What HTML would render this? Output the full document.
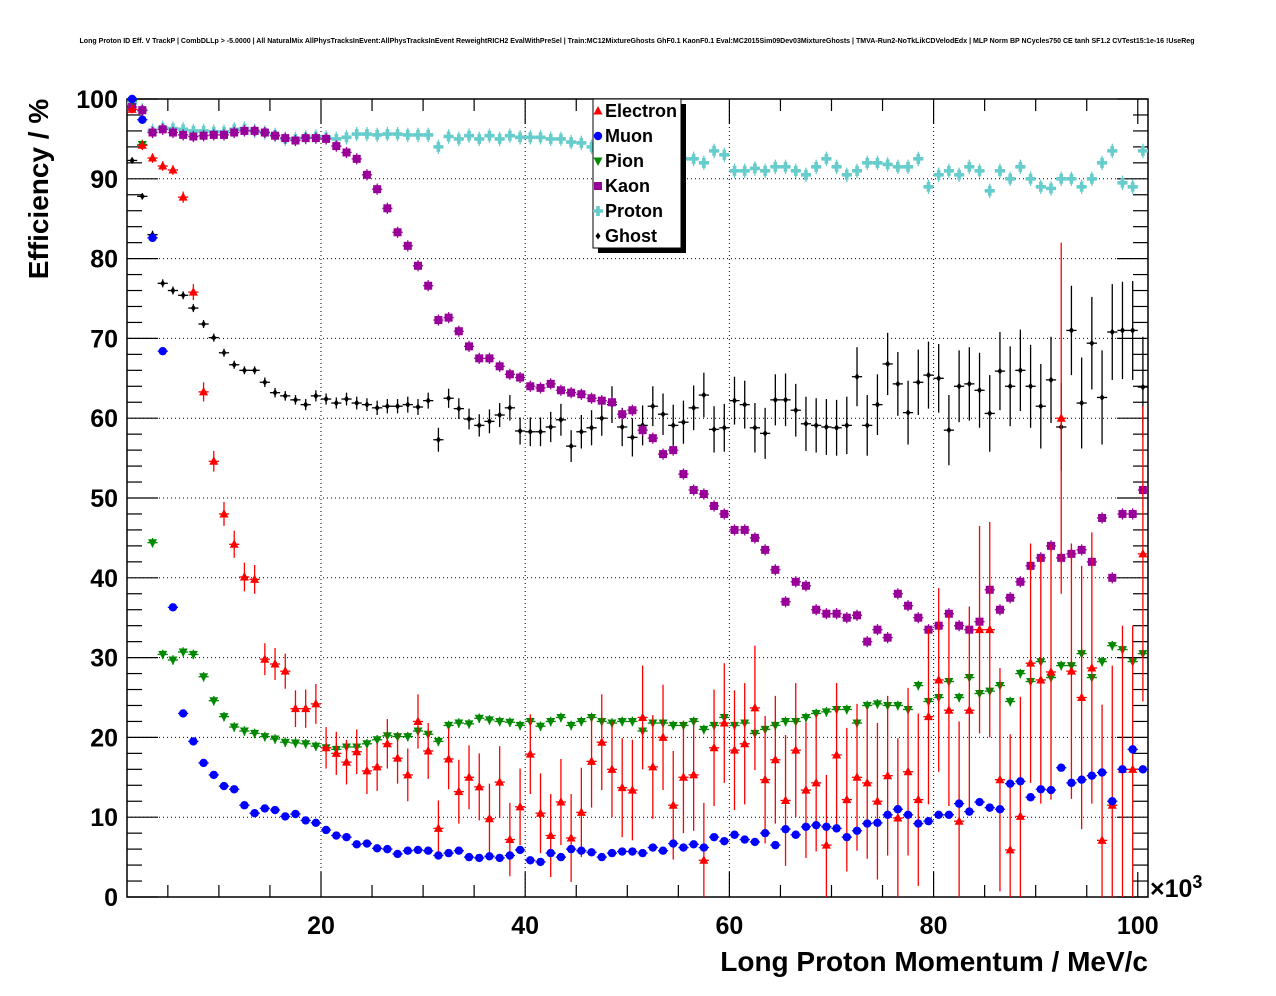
<!DOCTYPE html>
<html><head><meta charset="utf-8"><style>
html,body{margin:0;padding:0;background:#fff;}
svg{display:block;font-family:"Liberation Sans",Arial,sans-serif;}
</style></head><body>
<svg id="chart" width="1276" height="996" viewBox="0 0 1276 996">
<rect width="1276" height="996" fill="#fff"/>
<text x="637" y="43" font-size="7" font-weight="bold" text-anchor="middle" textLength="1115" lengthAdjust="spacingAndGlyphs">Long Proton ID Eff. V TrackP | CombDLLp &gt; -5.0000 | All NaturalMix AllPhysTracksInEvent:AllPhysTracksInEvent ReweightRICH2 EvalWithPreSel | Train:MC12MixtureGhosts GhF0.1 KaonF0.1 Eval:MC2015Sim09Dev03MixtureGhosts | TMVA-Run2-NoTkLikCDVelodEdx | MLP Norm BP NCycles750 CE tanh SF1.2 CVTest15:1e-16 !UseReg</text>
<g id="grid"></g>
<g id="axes"></g>
<g id="series"></g>
<text transform="translate(48,189) rotate(-90)" font-size="28" font-weight="bold" text-anchor="middle">Efficiency / %</text>
<text x="1148" y="971" font-size="28" font-weight="bold" text-anchor="end">Long Proton Momentum / MeV/c</text>
<text x="1150" y="897" font-size="25" font-weight="bold">×10<tspan font-size="18" dy="-9">3</tspan></text>
<g>
<rect x="598" y="104" width="88" height="149" fill="#000"/>
<rect x="593" y="99" width="88" height="149" fill="#fff" stroke="#000" stroke-width="1"/>
<g id="legend-entries"></g>
</g>
</svg>
<script>
const categories = [];
for (let i = 0; i < 100; i++) categories.push(1.5 + i);
const seriesNames = ["Electron","Muon","Pion","Kaon","Proton","Ghost"];
const yTicks = [0,10,20,30,40,50,60,70,80,90,100];
const xTicks = [20,40,60,80,100];

const electron = [98.7,94.2,92.6,91.6,91.1,87.7,75.8,63.3,54.6,48.0,44.2,40.1,39.8,29.8,29.2,28.3,23.6,23.6,24.2,18.7,
18.0,16.9,18.2,15.8,16.3,19.2,17.4,15.3,22.0,18.3,8.6,17.3,13.2,15.0,13.8,9.8,14.4,7.2,11.3,17.9,
10.5,7.7,11.9,7.4,10.6,17.0,19.4,16.0,13.7,13.4,22.5,16.3,20.0,11.5,15.0,15.3,4.6,18.7,21.8,18.4,
19.2,23.7,14.7,17.2,12.1,18.4,13.4,14.3,6.5,17.8,12.2,15.0,14.3,12.0,15.2,9.9,15.7,12.2,22.6,27.2,
23.4,9.5,23.4,33.5,33.5,14.7,5.9,10.1,29.3,27.2,28.2,60.0,28.3,25.0,28.7,7.1,11.5,16.0,16.0,43.0];
const electronErr = [0.5,0.6,0.6,0.6,0.6,0.7,1.0,1.2,1.3,1.5,1.7,1.8,1.8,2.0,2.0,2.2,2.3,2.4,2.5,2.6,
2.7,2.8,2.8,2.9,3.0,3.1,3.2,3.3,3.4,3.5,3.5,3.8,4.0,4.0,4.2,4.4,4.5,4.6,4.8,5.0,
5.0,5.2,5.4,5.5,5.6,5.8,6.0,6.0,6.2,6.3,6.5,6.5,6.6,6.8,7.0,7.0,7.2,7.3,7.5,7.5,
7.6,7.8,8.0,8.0,8.2,8.4,8.5,8.6,8.8,9.0,9.0,9.2,9.5,9.8,10.0,10.0,10.5,10.8,11.0,11.5,
12.0,12.5,13.0,13.0,13.5,14.0,14.5,15.0,15.0,15.5,16.0,22.0,16.0,16.5,17.0,17.0,17.5,18.0,18.0,18.5];
const muon = [100,97.4,82.6,68.4,36.3,23.0,19.5,16.8,15.3,13.9,13.5,11.5,10.5,11.1,10.9,10.1,10.4,9.6,9.3,8.4,
7.7,7.5,6.6,6.7,6.1,6.0,5.4,5.8,5.9,5.8,5.2,5.5,5.8,5.0,4.9,5.1,4.9,5.2,5.9,4.6,
4.4,5.5,5.0,6.0,5.8,5.6,5.0,5.5,5.7,5.7,5.5,6.2,5.8,6.7,6.2,6.6,6.2,7.5,7.0,7.8,
7.2,6.9,8.0,6.5,8.5,7.8,8.8,9.0,8.8,8.6,7.5,8.3,9.2,9.3,10.3,11.0,10.3,9.2,9.5,10.3,
10.3,11.7,10.7,11.9,11.2,11.0,14.2,14.5,12.5,13.5,13.4,16.2,14.3,14.7,15.2,15.6,12.0,16.0,18.5,16.0];
const pion = [99.8,94.3,44.4,30.4,29.7,30.7,30.4,27.6,24.6,22.6,21.3,20.8,20.5,20.1,19.8,19.4,19.3,19.2,18.9,18.7,
18.5,18.8,18.8,19.2,19.7,20.2,20.1,20.1,20.8,20.4,19.5,21.5,21.8,21.7,22.4,22.2,22.0,21.9,21.5,22.0,
21.4,22.0,22.5,21.5,22.0,22.5,22.0,21.8,22.0,22.0,20.8,21.8,21.8,21.5,21.5,22.0,21.0,21.5,22.5,21.5,
21.8,20.5,21.0,21.5,22.0,22.0,22.5,23.0,23.2,23.5,23.5,21.8,24.0,24.2,24.0,24.0,23.5,26.5,24.5,25.0,
27.0,25.0,27.5,25.5,25.8,26.5,24.5,28.0,27.0,29.5,27.5,29.0,29.0,30.5,27.5,29.5,31.5,31.0,29.5,30.5];
const kaon = [99.0,98.6,95.8,96.2,95.8,95.5,95.3,95.4,95.5,95.5,95.8,96.0,96.0,95.8,95.4,95.1,94.8,95.1,95.1,95.0,
94.1,93.3,92.5,90.5,88.7,86.3,83.3,81.6,79.1,76.6,72.3,72.6,70.9,69.0,67.5,67.5,66.5,65.5,65.1,64.0,
63.8,64.3,63.5,63.2,63.0,62.5,62.2,62.0,60.5,61.0,58.5,57.5,55.5,56.0,53.0,51.0,50.5,49.0,48.0,46.0,
46.0,45.0,43.5,41.0,37.0,39.5,39.0,36.0,35.5,35.5,35.0,35.3,32.0,33.5,32.5,38.0,36.5,35.0,33.5,34.0,
35.5,34.0,33.5,34.5,38.5,36.0,37.5,39.5,41.5,42.5,44.0,42.5,43.0,43.5,42.0,47.5,40.0,48.0,48.0,51.0];
const proton = [99.5,98.6,96.0,96.4,96.3,96.2,96.0,96.0,95.9,95.9,96.2,96.3,96.0,95.8,95.5,95.0,95.0,95.2,95.3,95.2,
95.0,95.2,95.6,95.6,95.5,95.6,95.6,95.5,95.5,95.5,94.0,95.3,95.0,95.4,95.0,95.4,95.0,95.4,95.2,95.2,
95.2,95.0,95.0,94.6,94.5,94.0,94.5,94.0,94.0,93.5,93.8,93.0,93.0,92.5,92.5,92.5,92.0,93.5,93.0,91.0,
91.0,91.3,91.0,91.5,91.5,91.0,90.5,91.5,92.5,91.5,90.5,91.0,92.0,92.0,91.8,91.5,91.5,92.5,89.0,90.5,
91.0,90.5,91.5,91.0,88.5,91.0,90.0,91.5,90.0,89.0,88.8,90.0,90.0,89.0,90.0,92.0,93.5,89.5,89.0,93.5];
const ghost = [92.3,87.8,83.0,76.9,76.0,75.4,73.8,71.8,70.1,68.2,66.7,66.0,66.0,64.5,63.2,62.8,62.3,61.7,62.8,62.4,
61.9,62.4,61.9,61.7,61.3,61.5,61.5,61.7,61.4,62.2,57.3,62.5,61.2,59.9,59.1,59.6,60.4,61.3,58.4,58.3,
58.3,58.9,59.8,56.5,58.3,58.8,60.0,61.7,58.9,57.6,59.1,61.5,60.5,59.1,59.5,61.3,62.9,58.6,58.8,62.2,
61.7,58.8,58.1,62.3,62.3,61.0,59.3,59.1,58.9,58.8,59.1,65.2,59.1,61.7,66.8,64.3,60.7,64.5,65.4,65.0,
58.5,64.0,64.3,63.5,60.6,65.9,64.0,66.0,64.0,61.5,64.8,58.9,71.0,61.9,69.4,62.6,70.8,71.0,71.0,63.9];
const ghostErr = [0.4,0.4,0.5,0.5,0.5,0.5,0.5,0.5,0.5,0.5,0.5,0.5,0.5,0.6,0.6,0.6,0.6,0.7,0.7,0.7,
0.7,0.8,0.8,0.8,0.9,0.9,0.9,1.0,1.0,1.0,1.5,1.2,1.3,1.3,1.4,1.5,1.5,1.6,1.7,1.8,
1.8,1.9,2.0,2.0,2.1,2.2,2.2,2.3,2.4,2.4,2.5,2.5,2.6,2.6,2.7,2.8,2.8,2.9,3.0,3.0,
3.0,3.1,3.2,3.2,3.3,3.3,3.4,3.4,3.5,3.5,3.6,3.7,3.8,3.8,3.9,4.0,4.0,4.1,4.2,4.3,
4.4,4.5,4.6,4.7,4.8,4.9,5.0,5.1,5.2,5.3,5.4,5.5,5.6,5.7,5.8,5.9,6.0,6.1,6.2,6.3];
const smallErr = {muon:0.4, pion:0.6, kaon:0.7, proton:0.9};

const NS = "http://www.w3.org/2000/svg";
const L = 127, R = 1148, T = 99, B = 897, X0 = 1, X1 = 101, Y0 = 0, Y1 = 100;
const xs = v => L + (v - X0) / (X1 - X0) * (R - L);
const ys = v => B - (v - Y0) / (Y1 - Y0) * (B - T);
function mk(tag, attrs, parent) {
  const e = document.createElementNS(NS, tag);
  for (const k in attrs) e.setAttribute(k, attrs[k]);
  parent.appendChild(e);
  return e;
}
const grid = document.getElementById('grid');
const axes = document.getElementById('axes');
const series = document.getElementById('series');

for (const t of yTicks) {
  if (t === 0 || t === 100) continue;
  const g = mk('line', {x1:L, x2:R, y1:ys(t), y2:ys(t), stroke:'#000', 'stroke-width':1, 'stroke-dasharray':'1,3'}, grid);
  
  
}
for (const t of xTicks) {
  if (t >= 100) continue;
  const g = mk('line', {x1:xs(t), x2:xs(t), y1:T, y2:B, stroke:'#000', 'stroke-width':1, 'stroke-dasharray':'1,3'}, grid);
  
  
}
const frame = mk('rect', {x:L, y:T, width:R-L, height:B-T, fill:'none', stroke:'#000', 'stroke-width':1.5}, axes);


for (let v = 0; v <= 100; v += 2) {
  const len = v % 10 === 0 ? 31 : 15;
  mk('line', {x1:L, x2:L+len, y1:ys(v), y2:ys(v), stroke:'#000', 'stroke-width':1.2}, axes);
  mk('line', {x1:R, x2:R-len, y1:ys(v), y2:ys(v), stroke:'#000', 'stroke-width':1.2}, axes);
}
for (const t of yTicks) {
  const lab = mk('text', {x:L-9, y:ys(t)+9, 'font-size':25, 'font-weight':'bold', 'text-anchor':'end'}, axes);
  lab.textContent = t;
  
  
}
for (let v = 5; v <= 100; v += 5) {
  const len = v % 20 === 0 ? 25 : 12;
  mk('line', {x1:xs(v), x2:xs(v), y1:B, y2:B-len, stroke:'#000', 'stroke-width':1.2}, axes);
  mk('line', {x1:xs(v), x2:xs(v), y1:T, y2:T+len, stroke:'#000', 'stroke-width':1.2}, axes);
}
for (const t of xTicks) {
  const lab = mk('text', {x:xs(t), y:934, 'font-size':25, 'font-weight':'bold', 'text-anchor':'middle'}, axes);
  lab.textContent = t;
  
  
}

function marker(kind, color, cx, cy, parent) {
  let e;
  if (kind === 'tri-up') e = mk('polygon', {points:`${cx},${cy-5} ${cx-4.5},${cy+3.5} ${cx+4.5},${cy+3.5}`, fill:color}, parent);
  else if (kind === 'tri-down') e = mk('polygon', {points:`${cx},${cy+5} ${cx-4.5},${cy-3.5} ${cx+4.5},${cy-3.5}`, fill:color}, parent);
  else if (kind === 'circle') e = mk('circle', {cx:cx, cy:cy, r:4.2, fill:color}, parent);
  else if (kind === 'square') e = mk('rect', {x:cx-4, y:cy-4, width:8, height:8, fill:color}, parent);
  else if (kind === 'cross') e = mk('path', {d:`M${cx-1.8},${cy-5}h3.6v3.2h3.2v3.6h-3.2v3.2h-3.6v-3.2h-3.2v-3.6h3.2z`, fill:color}, parent);
  else e = mk('path', {d:`M${cx},${cy-3.5}L${cx+2.5},${cy}L${cx},${cy+3.5}L${cx-2.5},${cy}z`, fill:color}, parent);
  return e;
}
const defs = [
  {name:'electron', vals:electron, err:electronErr, color:'#ff0000', kind:'tri-up'},
  {name:'muon', vals:muon, err:null, color:'#0000ff', kind:'circle'},
  {name:'pion', vals:pion, err:null, color:'#008800', kind:'tri-down'},
  {name:'kaon', vals:kaon, err:null, color:'#990099', kind:'square'},
  {name:'proton', vals:proton, err:null, color:'#66cccc', kind:'cross'},
  {name:'ghost', vals:ghost, err:ghostErr, color:'#000000', kind:'diamond'}
];
const drawOrder = ['ghost','proton','kaon','pion','electron','muon'];
const halfBin = (xs(2) - xs(1)) / 2;
for (const nm of drawOrder) {
  const d = defs.find(q => q.name === nm);
  const g = mk('g', {}, series);
  
  
  d.vals.forEach((v, i) => {
    const cx = xs(categories[i]), cy = ys(v);
    const e = d.err ? d.err[i] : smallErr[d.name];
    const top = Math.max(T, ys(Math.min(100, v + e))), bot = Math.min(B, ys(Math.max(0, v - e)));
    mk('line', {x1:cx-halfBin, x2:cx+halfBin, y1:cy, y2:cy, stroke:d.color, 'stroke-width':1.3}, g);
    mk('line', {x1:cx, x2:cx, y1:top, y2:bot, stroke:d.color, 'stroke-width':1.3}, g);
    const m = marker(d.kind, d.color, cx, cy, g);
    
    
  });
}
const le = document.getElementById('legend-entries');
defs.forEach((d, i) => {
  const y = 111 + i * 25;
  const g = mk('g', {}, le);
  
  
  marker(d.kind, d.color, 598, y, g);
  const t = mk('text', {x:605, y:y+6, 'font-size':18, 'font-weight':'bold'}, g);
  t.textContent = seriesNames[i];
});
</script>
</body></html>
